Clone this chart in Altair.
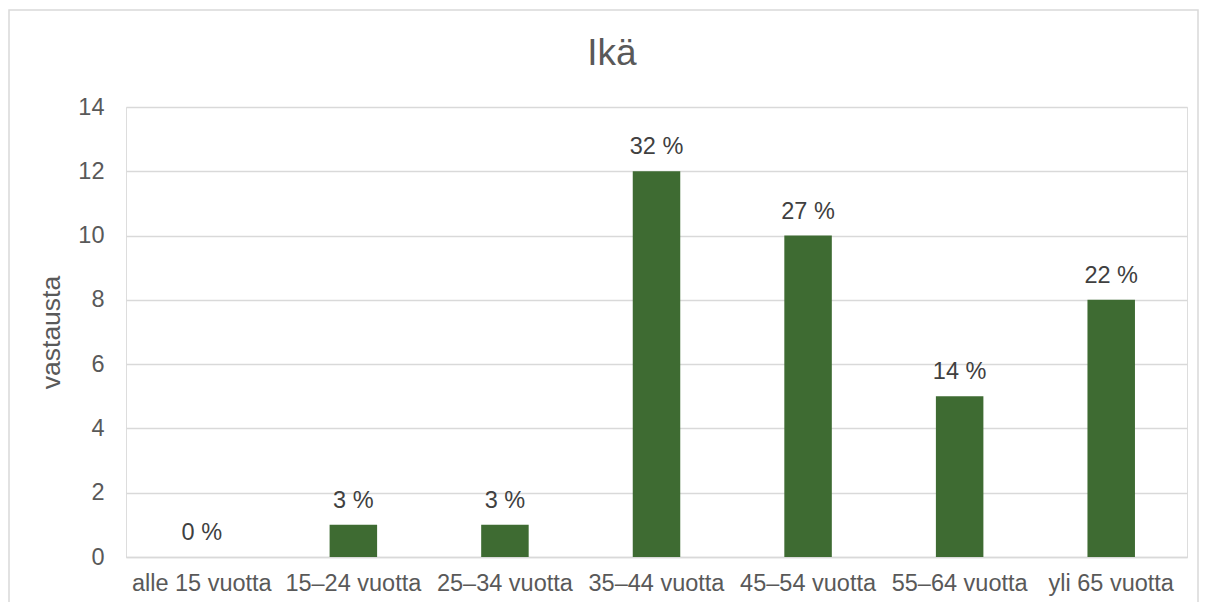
import altair as alt
import pandas as pd

categories = ["alle 15 vuotta", "15–24 vuotta", "25–34 vuotta", "35–44 vuotta",
              "45–54 vuotta", "55–64 vuotta", "yli 65 vuotta"]
counts = [0, 1, 1, 12, 10, 5, 8]
labels = ["0 %", "3 %", "3 %", "32 %", "27 %", "14 %", "22 %"]
chart_title = ["Ikä"]

df = pd.DataFrame({"cat": categories, "n": counts, "lab": labels})

FONT = "Liberation Sans"
GREY = "#595959"
FS = 23.5

x = alt.X("cat:N", sort=categories, title=None,
          axis=alt.Axis(labelAngle=0, labelFont=FONT, labelFontSize=FS, labelColor=GREY,
                        ticks=False, tickSize=0, domain=True, domainColor="#d9d9d9",
                        domainWidth=1.3, labelPadding=14, grid=False))
y = alt.Y("n:Q", title="vastausta",
          scale=alt.Scale(domain=[0, 14]),
          axis=alt.Axis(values=[0, 2, 4, 6, 8, 10, 12, 14], labelFont=FONT, labelFontSize=FS,
                        labelColor=GREY, ticks=False, tickSize=0, domain=False,
                        labelPadding=22, gridColor="#d9d9d9", gridWidth=1.3,
                        titleFont=FONT, titleFontSize=26.5, titleColor=GREY,
                        titleFontWeight="normal", titlePadding=12))

bars = alt.Chart(df).mark_bar(size=47.5, color="#3E6B32").encode(x=x, y=y)
text = alt.Chart(df).mark_text(baseline="alphabetic", dy=-17, font=FONT, fontSize=FS,
                               color="#404040").encode(x=alt.X("cat:N", sort=categories),
                                                       y="n:Q", text="lab:N")

border = alt.Chart(pd.DataFrame({"a": [0]})).mark_rect(
    fill=None, stroke="#d9d9d9", strokeWidth=1.5, clip=False
).encode(x=alt.value(-117), x2=alt.value(1072), y=alt.value(-97), y2=alt.value(530))

title = alt.Chart(pd.DataFrame({"t": chart_title})).mark_text(
    font=FONT, fontSize=37, color=GREY, baseline="alphabetic", align="center"
).encode(x=alt.value(486), y=alt.value(-42), text="t:N")

chart = alt.layer(border, bars, text, title).properties(
    width=1061, height=450,
    autosize=alt.AutoSizeParams(type="none"),
    padding={"left": 118, "top": 99, "right": 12, "bottom": 45},
).configure_view(stroke=None).configure(background="white")

chart.save("out.html", embed_options={"renderer": "svg", "actions": False})
